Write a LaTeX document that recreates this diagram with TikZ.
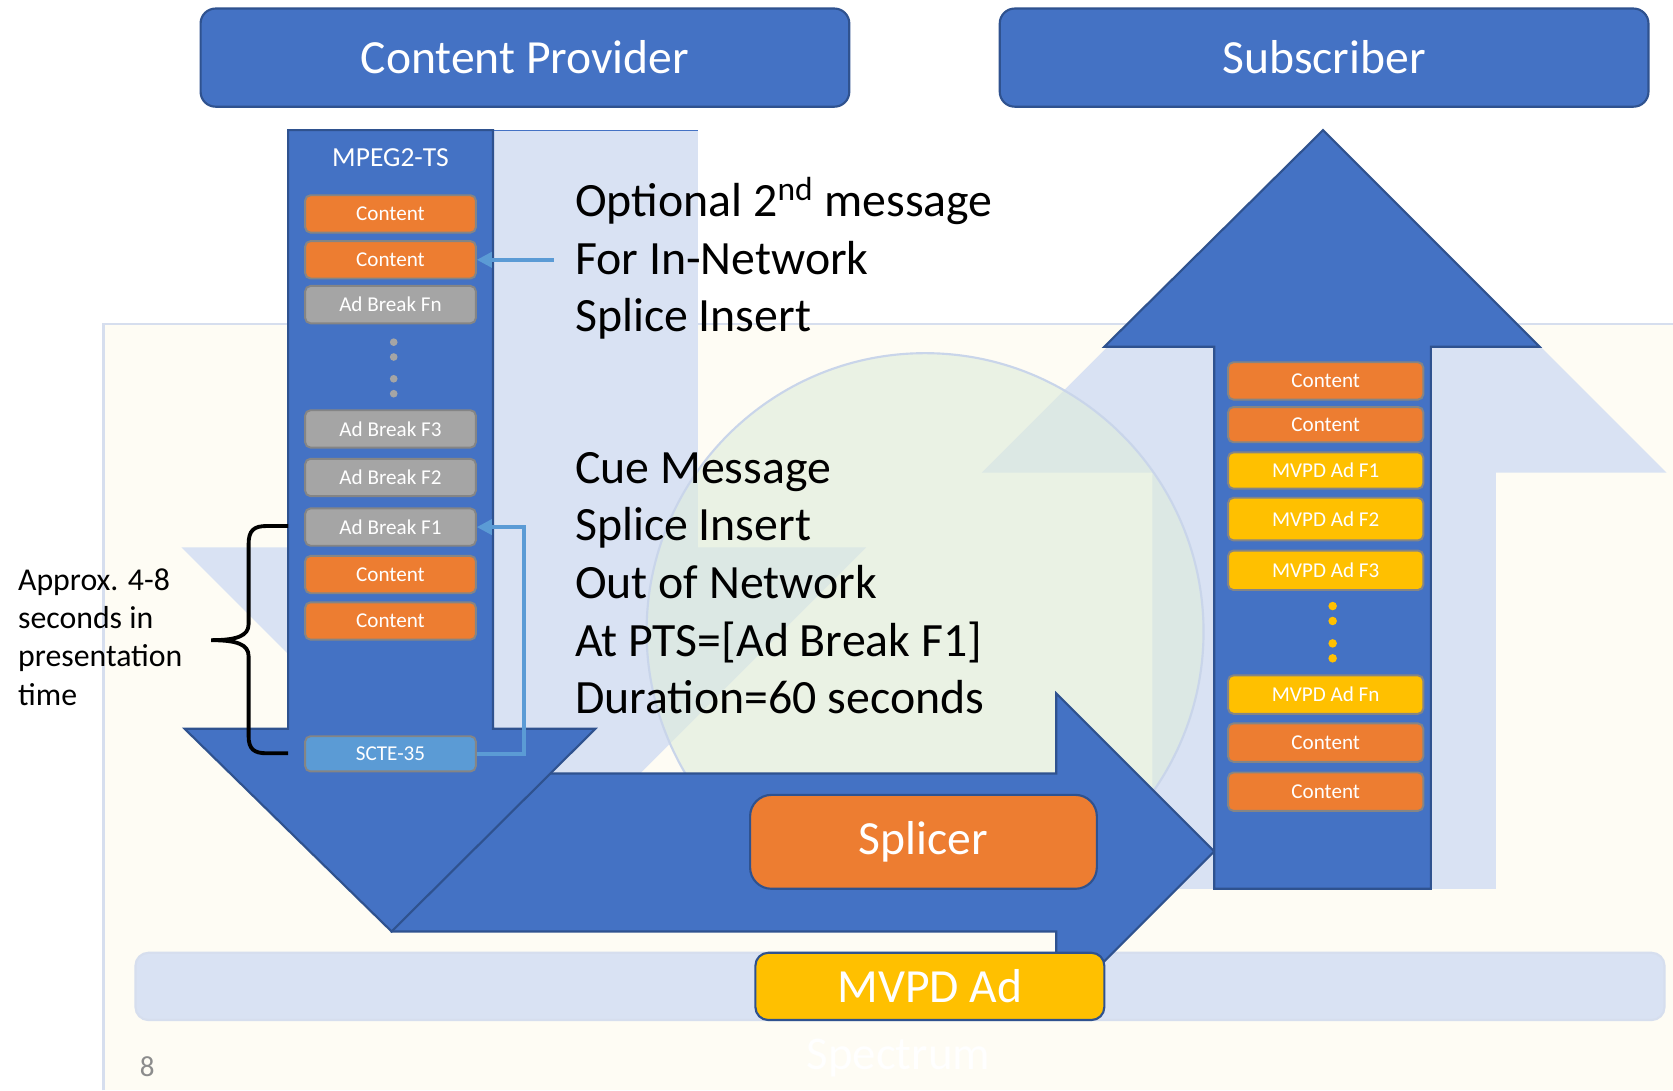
\documentclass[tikz,border=0pt]{standalone}
\usepackage{fontspec}
\setmainfont{Carlito}
\usetikzlibrary{arrows.meta}
\definecolor{pblue}{HTML}{4472C4}
\definecolor{pborder}{HTML}{2F528F}
\definecolor{porange}{HTML}{ED7D31}
\definecolor{pgray}{HTML}{A5A5A5}
\definecolor{pyellow}{HTML}{FFC000}
\definecolor{plink}{HTML}{5B9BD5}
\definecolor{boxline}{HTML}{858585}
\definecolor{ghost}{HTML}{D9E2F3}
\definecolor{ggreen}{HTML}{DEECDA}
\definecolor{gline}{HTML}{C9D5EA}
\definecolor{cream}{HTML}{FEFCF4}
\definecolor{creamline}{HTML}{D6DEEE}
\definecolor{pagenum}{HTML}{8C8C8C}

\begin{document}
\begin{tikzpicture}[x = 0.5pt, y = -0.5pt, line width = 1pt,
    box/.style = {rounded corners = 2.5pt, draw = boxline, line width = 0.9pt, text = white, inner sep = 0pt, font = \fontsize{9.9}{11}\selectfont},
    lbox/.style = {box, minimum width = 80pt, minimum height = 17.5pt},
    rbox/.style = {box, minimum width = 91.5pt, minimum height = 18pt},
    cnt/.style = {fill = porange},
    brk/.style = {fill = pgray},
    mvpd/.style = {fill = pyellow},
    head/.style = {rounded corners = 7pt, draw = pborder, fill = pblue, text = white, minimum width = 304pt, minimum height = 46pt, font = \fontsize{22.3}{26}\selectfont},
    msg/.style = {align = left, anchor = base west, inner sep = 0pt, font = \fontsize{22.4}{27}\selectfont},
    link/.style = {plink, line width = 1.6pt, -{Triangle[length = 7pt, width = 7pt]}}]
\useasboundingbox (0,0) rectangle (1568,1022);
\fill[white] (0,0) rectangle (1568,1022);
% slide background
\fill[cream] (97,304) rectangle (1568,1022);
\draw[creamline] (97,1022) -- (97,304) -- (1568,304);
% faded copies
\fill[ghost] (328,122) -- (654,122) -- (654,513) -- (812,513) -- (491,834) -- (170,513) -- (328,513) -- cycle;
\draw[pblue, line width = 0.6pt] (462,122) -- (654,122);
\fill[ghost] (1241,122) -- (1562,443) -- (1402,443) -- (1402,833) -- (1080,833) -- (1080,443) -- (920,443) -- cycle;
\draw[fill = ggreen, fill opacity = 0.6, draw = gline] (867,592) circle (130.5pt);
\draw[fill = ghost, draw = creamline, rounded corners = 6pt] (127,893) rectangle (1560,956);
% flow arrows
\draw[fill = pblue, draw = pborder] (367,725) -- (990,725) -- (990,650) -- (1138,798) -- (990,946) -- (990,873) -- (367,873) -- cycle;
\draw[fill = pblue, draw = pborder] (270,122) -- (462,122) -- (462,683) -- (558,683) -- (367,873) -- (173,683) -- (270,683) -- cycle;
\draw[fill = pblue, draw = pborder] (1240,122) -- (1443,325) -- (1341,325) -- (1341,833) -- (1138,833) -- (1138,325) -- (1035,325) -- cycle;
% transport stream
\draw (366,148) node[text = white, font = \fontsize{12.9}{15}\selectfont](ts){MPEG2-TS}
    (366,200.5) node[lbox, cnt](p1){Content}
    (366,243.5) node[lbox, cnt](p2){Content}
    (366,285.5) node[lbox, brk](p3){Ad Break Fn}
    (366,402) node[lbox, brk](p4){Ad Break F3}
    (366,447.5) node[lbox, brk](p5){Ad Break F2}
    (366,494) node[lbox, brk](p6){Ad Break F1}
    (366,538.5) node[lbox, cnt](p7){Content}
    (366,582) node[lbox, cnt](p8){Content}
    (366,706.5) node[lbox, fill = plink, minimum height = 16.5pt](p9){SCTE-35};
\fill[pgray] (369,320.7) circle (1.8pt);
\fill[pgray] (369,334.6) circle (1.8pt);
\fill[pgray] (369,355) circle (1.8pt);
\fill[pgray] (369,369) circle (1.8pt);
% subscriber stream
\draw (1242.5,357) node[rbox, cnt, minimum height = 17.5pt](s1){Content}
    (1242.5,398) node[rbox, cnt, minimum height = 16.5pt](s2){Content}
    (1242.5,441) node[rbox, mvpd, minimum height = 17pt](s3){MVPD Ad F1}
    (1242.5,486.5) node[rbox, mvpd, minimum height = 20pt](s4){MVPD Ad F2}
    (1242.5,534.5) node[rbox, mvpd, minimum height = 18.5pt](s5){MVPD Ad F3}
    (1242.5,651) node[rbox, mvpd](s6){MVPD Ad Fn}
    (1242.5,696) node[rbox, cnt](s7){Content}
    (1242.5,742) node[rbox, cnt](s8){Content};
\fill[pyellow] (1249,568) circle (2pt);
\fill[pyellow] (1249,582) circle (2pt);
\fill[pyellow] (1249,603) circle (2pt);
\fill[pyellow] (1249,617) circle (2pt);
% messages
\coordinate (m1) at (519,243.5);
\coordinate (m2) at (491,600);
\draw[link] (m1) -- (p2.east);
\draw[link] (p9.east) -| (m2) |- (p6.east);
\draw (538,311) node[msg](opt){Optional 2\textsuperscript{nd} message\\For In-Network\\Splice Insert};
\draw (538,669) node[msg](cue){Cue Message\\Splice Insert\\Out of Network\\At PTS=[Ad Break F1]\\Duration=60 seconds};
% brace
\draw[line width = 1.8pt] (270,493) -- (250,493) .. controls (238,493) and (233,497) .. (233,510) -- (233,585) .. controls (233,596) and (222,600) .. (198,600) .. controls (222,600) and (233,604) .. (233,615) -- (233,690) .. controls (233,702) and (238,706) .. (250,706) -- (270,706);
\draw (16,661) node[align = left, anchor = base west, inner sep = 0pt, font = \fontsize{14.9}{18}\selectfont](apx){Approx. 4-8\\seconds in\\presentation\\time};
% boxes
\draw (492,54) node[head](cp){Content Provider}
    (1241,54) node[head](sub){Subscriber}
    (865.5,789) node[head, fill = porange, rounded corners = 10pt, minimum width = 162.5pt, minimum height = 44pt](spl){Splicer}
    (871.5,924.5) node[head, fill = pyellow, rounded corners = 6pt, minimum width = 163.5pt, minimum height = 31.5pt](ad){MVPD Ad};
\draw (138,1000) node[text = pagenum, font = \fontsize{13.6}{16}\selectfont](pg){8}
    (842,992) node[text = white, font = \fontsize{22}{26}\selectfont](brand){Spectrum};
\end{tikzpicture}
\end{document}
